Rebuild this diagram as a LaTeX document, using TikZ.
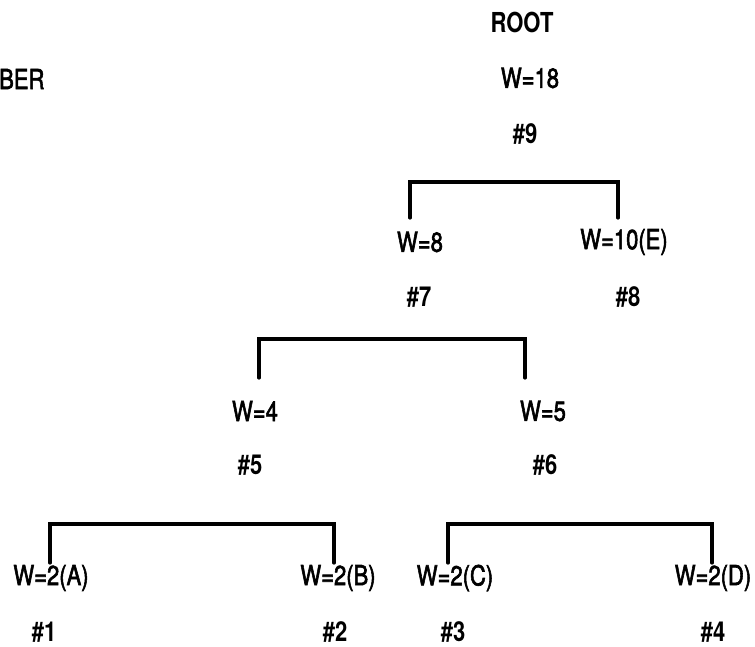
\documentclass[tikz,border=0pt]{standalone}
\usepackage{fontspec}
\setmainfont{TeX Gyre Heros}
\newfontfamily\medfont[FakeBold=2.5]{TeX Gyre Heros}
\begin{document}
\begin{tikzpicture}[x=1pt,y=1pt,
  lbl/.style={inner sep=0pt, font=\fontsize{22}{26}\medfont, yscale=1.25, transform shape},
  num/.style={lbl, font=\fontsize{22}{26}\selectfont\bfseries},
  bar/.style={line width=3.2pt, line cap=round, line join=miter}]
\useasboundingbox (0,-647) rectangle (755,0);

% level labels
\node[lbl, anchor=west] (ber) at (-1,-79) {BER};

% root
\node[num] (root) at (522,-22) {ROOT};
\node[lbl] (w18) at (530,-78) {W=18};
\node[num] (n9) at (525,-134) {\#9};

% second level
\node[lbl] (w8) at (420,-242) {W=8};
\node[lbl] (w10) at (624,-242) {W=10(E)};
\node[num] (n7) at (419,-297) {\#7};
\node[num] (n8) at (628,-297) {\#8};

% third level
\node[lbl] (w4) at (255,-411) {W=4};
\node[lbl] (w5) at (543,-411) {W=5};
\node[num] (n5) at (250,-465) {\#5};
\node[num] (n6) at (545,-465) {\#6};

% leaves
\node[lbl] (wa) at (51,-578) {W=2(A)};
\node[lbl] (wb) at (338,-578) {W=2(B)};
\node[lbl] (wc) at (455,-578) {W=2(C)};
\node[lbl] (wd) at (713,-578) {W=2(D)};
\node[num] (n1) at (44,-632) {\#1};
\node[num] (n2) at (335,-632) {\#2};
\node[num] (n3) at (453,-632) {\#3};
\node[num] (n4) at (713,-632) {\#4};

% bracket corners
\coordinate (a9l) at (410,-218); \coordinate (b9l) at (410,-182);
\coordinate (b9r) at (618,-182); \coordinate (a9r) at (618,-218);
\coordinate (a7l) at (259,-378); \coordinate (b7l) at (259,-339);
\coordinate (b7r) at (525,-339); \coordinate (a7r) at (525,-378);
\coordinate (a5l) at (50,-563);  \coordinate (b5l) at (50,-524);
\coordinate (b5r) at (334,-524); \coordinate (a5r) at (334,-563);
\coordinate (a6l) at (448,-563); \coordinate (b6l) at (448,-524);
\coordinate (b6r) at (712,-524); \coordinate (a6r) at (712,-563);

% brackets joining each pair of children
\draw[bar] (a9l) -- (b9l) -- (b9r) -- (a9r);
\draw[bar] (a7l) -- (b7l) -- (b7r) -- (a7r);
\draw[bar] (a5l) -- (b5l) -- (b5r) -- (a5r);
\draw[bar] (a6l) -- (b6l) -- (b6r) -- (a6r);
\end{tikzpicture}
\end{document}
